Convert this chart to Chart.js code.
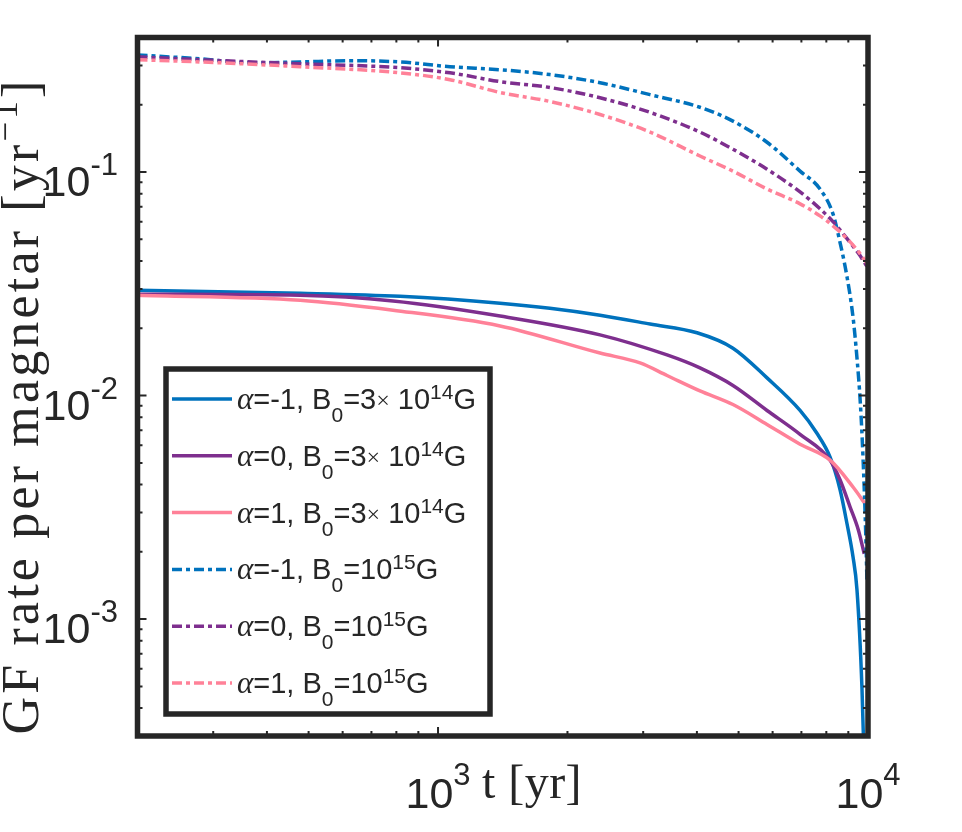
<!DOCTYPE html>
<html>
<head>
<meta charset="utf-8">
<script src="https://cdn.jsdelivr.net/npm/chart.js@4.4.1/dist/chart.umd.min.js"></script>
<style>
  html, body { margin: 0; padding: 0; background: #fff; }
  canvas { display: block; }
</style>
</head>
<body>
<canvas id="chart" width="962" height="832"></canvas>
<script>
// values (t in yr, rate in 1/yr)
const tBlueSolid = [200, 478, 816, 1394, 1820, 2381, 3112, 4002, 4852, 5823, 6950, 7600, 8163, 8608, 8937, 9228, 9425, 9683, 9800];
const rateBlueSolid = [0.0296, 0.0287, 0.0278, 0.0259, 0.0246, 0.0229, 0.0209, 0.0191, 0.0163, 0.0120, 0.00858, 0.0068, 0.0053, 0.0038, 0.00267, 0.0019, 0.00136, 0.00049, 0.00022];

const tPurpleSolid = [200, 478, 786, 1394, 2381, 3409, 4066, 4852, 5823, 6950, 8163, 8608, 9082, 9500, 9800];
const ratePurpleSolid = [0.0284, 0.0281, 0.0265, 0.0227, 0.0187, 0.0152, 0.0133, 0.0111, 0.00858, 0.00671, 0.00514, 0.0042, 0.00318, 0.0025, 0.00196];

const tPinkSolid = [200, 478, 786, 1394, 2381, 2950, 3409, 4066, 4852, 5823, 6950, 8163, 9228, 9893];
const ratePinkSolid = [0.0281, 0.0267, 0.0241, 0.0205, 0.0155, 0.0140, 0.0123, 0.0105, 0.00912, 0.00743, 0.00606, 0.00514, 0.0039, 0.00324];

const tBlueDash = [200, 280, 366, 478, 624, 816, 1066, 1394, 1820, 2381, 3112, 4066, 4852, 5823, 6950, 7734, 8290, 8608, 8937, 9228, 9425, 9600, 9736, 9880, 9946];
const rateBlueDash = [0.334, 0.321, 0.308, 0.311, 0.315, 0.311, 0.296, 0.287, 0.273, 0.251, 0.222, 0.195, 0.169, 0.136, 0.101, 0.084, 0.065, 0.0485, 0.0340, 0.0225, 0.0148, 0.0092, 0.0053, 0.0024, 0.00145];

const tPurpleDash = [200, 280, 478, 816, 1066, 1394, 1820, 2381, 3112, 4066, 4852, 5823, 6950, 7734, 8290, 8937, 9581, 9946];
const ratePurpleDash = [0.328, 0.318, 0.305, 0.293, 0.278, 0.254, 0.239, 0.215, 0.185, 0.151, 0.1265, 0.103, 0.0815, 0.0685, 0.060, 0.0504, 0.0423, 0.0378];

const tPinkDash = [200, 280, 478, 816, 1066, 1394, 1820, 2381, 3112, 4066, 4852, 5823, 6950, 7734, 8290, 8937, 9581, 9946];
const ratePinkDash = [0.318, 0.311, 0.296, 0.278, 0.259, 0.227, 0.207, 0.181, 0.151, 0.118, 0.101, 0.084, 0.0721, 0.0637, 0.0575, 0.0504, 0.0432, 0.039];

const seriesAlpha = ['-1', '0', '1', '-1', '0', '1'];
const seriesField = ['3e14', '3e14', '3e14', '1e15', '1e15', '1e15'];

const xTickExps = [3, 4];
const yTickExps = [-1, -2, -3];
const xLimits = [200, 1e4];
const yLimits = [3.15e-4, 0.4];

const INK = '#262626';
const SANS = '"Liberation Sans", Arial, sans-serif';
const SERIF = '"Liberation Serif", serif';
const colors = ['#0072BD', '#7E2F8E', '#FF8198', '#0072BD', '#7E2F8E', '#FF8198'];
const DASH = [10, 4, 4, 4];

const times = [tBlueSolid, tPurpleSolid, tPinkSolid, tBlueDash, tPurpleDash, tPinkDash];
const rates = [rateBlueSolid, ratePurpleSolid, ratePinkSolid, rateBlueDash, ratePurpleDash, ratePinkDash];

const datasets = rates.map((r, i) => ({
  label: 'alpha=' + seriesAlpha[i] + ', B0=' + seriesField[i],
  data: r.map((v, j) => ({ x: times[i][j], y: v })),
  borderColor: colors[i],
  borderWidth: 3.5,
  borderDash: i < 3 ? [] : DASH,
  borderCapStyle: 'butt',
  pointRadius: 0,
  cubicInterpolationMode: 'monotone',
  order: 5 - i
}));

// draws text pieces one after another; spacing adds extra room after each character
function drawRich(ctx, segs, x, y, align, spacing) {
  spacing = spacing || 0;
  const w = richWidth(ctx, segs, spacing);
  let cx = align === 'center' ? x - w / 2 : align === 'right' ? x - w : x;
  segs.forEach(s => {
    ctx.font = s.font;
    if (!spacing) {
      ctx.fillText(s.text, cx, y + (s.dy || 0));
      cx += ctx.measureText(s.text).width;
    } else {
      for (const ch of s.text) {
        ctx.fillText(ch, cx, y + (s.dy || 0));
        cx += ctx.measureText(ch).width + spacing;
      }
    }
  });
  return w;
}

function richWidth(ctx, segs, spacing) {
  let w = 0;
  segs.forEach(s => {
    ctx.font = s.font;
    w += ctx.measureText(s.text).width + (spacing || 0) * [...s.text].length;
  });
  return w;
}

function powLabel(exp, big, small, supDy) {
  return [
    { text: '10', font: big + 'px ' + SANS },
    { text: String(exp), font: small + 'px ' + SANS, dy: supDy }
  ];
}

function legendSegs(i) {
  const main = '29px ' + SANS, sm = '21px ' + SANS;
  const segs = [
    { text: 'α', font: 'italic 31px ' + SERIF },
    { text: '=' + seriesAlpha[i] + ', B', font: main },
    { text: '0', font: sm, dy: 13 }
  ];
  if (seriesField[i] === '3e14') {
    segs.push({ text: '=3', font: main }, { text: '×', font: '24px ' + SERIF, dy: -1 },
      { text: ' 10', font: main }, { text: '14', font: sm, dy: -10 }, { text: 'G', font: main });
  } else {
    segs.push({ text: '=10', font: main }, { text: '15', font: sm, dy: -10 }, { text: 'G', font: main });
  }
  return segs;
}

const frame = {
  id: 'frame',
  afterDatasetsDraw(chart) {
    const { ctx, chartArea: a, scales: { x, y } } = chart;
    ctx.save();
    ctx.strokeStyle = INK;
    ctx.fillStyle = INK;
    ctx.textAlign = 'left';
    ctx.textBaseline = 'alphabetic';

    // inward ticks on all four sides
    ctx.lineWidth = 2;
    ctx.beginPath();
    for (let e = 2; e <= 4; e++) {
      for (let k = 1; k <= 9; k++) {
        const v = k * Math.pow(10, e);
        if (v <= xLimits[0] || v >= xLimits[1]) continue;
        const px = x.getPixelForValue(v), len = k === 1 ? 9 : 5;
        ctx.moveTo(px, a.bottom); ctx.lineTo(px, a.bottom - len);
        ctx.moveTo(px, a.top); ctx.lineTo(px, a.top + len);
      }
    }
    for (let e = -4; e <= -1; e++) {
      for (let k = 1; k <= 9; k++) {
        const v = k * Math.pow(10, e);
        if (v <= yLimits[0] || v >= yLimits[1]) continue;
        const py = y.getPixelForValue(v), len = k === 1 ? 9 : 5;
        ctx.moveTo(a.left, py); ctx.lineTo(a.left + len, py);
        ctx.moveTo(a.right, py); ctx.lineTo(a.right - len, py);
      }
    }
    ctx.stroke();

    ctx.lineWidth = 5.5;
    ctx.strokeRect(a.left, a.top, a.right - a.left, a.bottom - a.top);

    // tick labels
    xTickExps.forEach(e => {
      drawRich(ctx, powLabel(e, 43, 31, -23), x.getPixelForValue(Math.pow(10, e)), 808, 'center');
    });
    yTickExps.forEach(e => {
      const py = y.getPixelForValue(Math.pow(10, e));
      drawRich(ctx, powLabel(e, 43, 31, -21), 118, py + 24, 'right');
    });

    // axis titles (LaTeX-like serif, stretched to the reference extent)
    const xt = [{ text: 't [yr]', font: '48px ' + SERIF }];
    const xsp = (100 - richWidth(ctx, xt)) / 6;
    drawRich(ctx, xt, 532, 798, 'center', Math.max(0, xsp));

    const yt = [
      { text: 'GF rate per magnetar [yr', font: '52px ' + SERIF },
      { text: '−1', font: '35px ' + SERIF, dy: -21 },
      { text: ']', font: '52px ' + SERIF }
    ];
    const ysp = (657 - richWidth(ctx, yt)) / 27;
    ctx.save();
    ctx.translate(38, 406);
    ctx.rotate(-Math.PI / 2);
    drawRich(ctx, yt, 0, 0, 'center', Math.max(0, ysp));
    ctx.restore();

    // legend box
    const lx = 166, ly = 369, lw = 324, lh = 345;
    ctx.fillStyle = '#fff';
    ctx.fillRect(lx, ly, lw, lh);
    ctx.lineWidth = 5.5;
    ctx.strokeRect(lx, ly, lw, lh);
    datasets.forEach((d, i) => {
      const ry = 399 + i * 56.8;
      ctx.strokeStyle = d.borderColor;
      ctx.lineWidth = 3.5;
      ctx.setLineDash(d.borderDash);
      ctx.beginPath();
      ctx.moveTo(172, ry); ctx.lineTo(232, ry);
      ctx.stroke();
      ctx.setLineDash([]);
      ctx.fillStyle = INK;
      drawRich(ctx, legendSegs(i), 237, ry + 10, 'left');
    });
    ctx.restore();
  }
};

new Chart(document.getElementById('chart'), {
  type: 'line',
  data: { datasets },
  options: {
    responsive: false,
    animation: false,
    devicePixelRatio: 1,
    layout: { padding: { left: 137.5, right: 94, top: 37.5, bottom: 96 } },
    plugins: { legend: { display: false }, tooltip: { enabled: false } },
    scales: {
      x: { type: 'logarithmic', min: xLimits[0], max: xLimits[1], display: false },
      y: { type: 'logarithmic', min: yLimits[0], max: yLimits[1], display: false }
    }
  },
  plugins: [frame]
});
</script>
</body>
</html>
